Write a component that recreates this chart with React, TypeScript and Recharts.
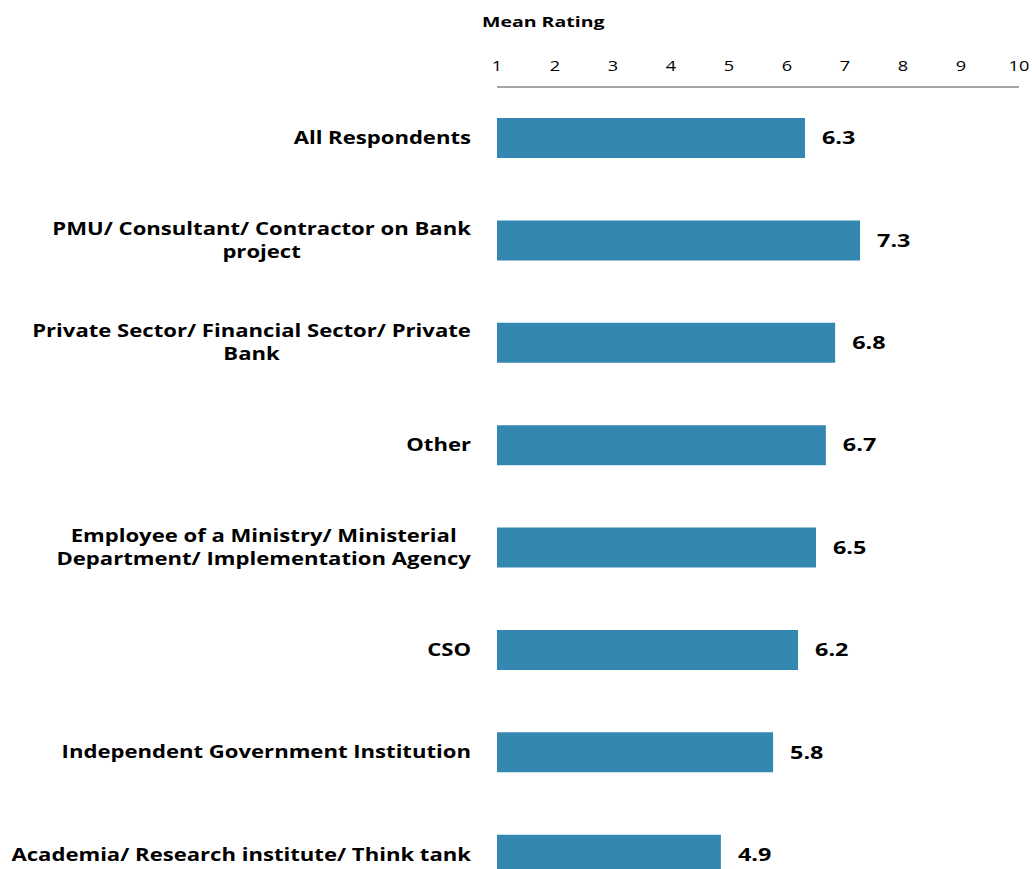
import React from "react";
import { BarChart, Bar, XAxis, YAxis, LabelList } from "recharts";

const categories = [
  "All Respondents",
  "PMU/ Consultant/ Contractor on Bank\nproject",
  "Private Sector/ Financial Sector/ Private\nBank",
  "Other",
  "Employee of a Ministry/ Ministerial\nDepartment/ Implementation Agency",
  "CSO",
  "Independent Government Institution",
  "Academia/ Research institute/ Think tank",
];
const meanRatings = [6.31, 7.26, 6.83, 6.67, 6.5, 6.19, 5.76, 4.86];
const xTicks = [1, 2, 3, 4, 5, 6, 7, 8, 9, 10];

const data = categories.map((name, i) => ({ name, value: meanRatings[i] }));

// the original text is drawn wide, so every label is stretched horizontally
const FONT = "'Open Sans'";
const STRETCH = 1.3;
const LABEL_SIZE = 17;

let ctx: CanvasRenderingContext2D | null = null;
const measure = (s: string) => {
  if (!ctx) ctx = document.createElement("canvas").getContext("2d");
  if (!ctx) return s.length * 9;
  ctx.font = `bold ${LABEL_SIZE}px ${FONT}`;
  return ctx.measureText(s).width * STRETCH;
};

const Wide = ({ x, y, anchor, children, size, bold }: any) => (
  <g transform={`translate(${x},${y}) scale(${STRETCH},1)`}>
    <text
      x={0}
      y={0}
      dy="0.35em"
      textAnchor={anchor}
      fontFamily={FONT}
      fontWeight={bold ? "bold" : "normal"}
      fontSize={size}
      fill="#000"
    >
      {children}
    </text>
  </g>
);

const CategoryTick = (props: any) => {
  const { x, y, payload } = props;
  const lines: string[] = String(payload.value).split("\n");
  const right = x - 24;
  const w = Math.max(...lines.map(measure));
  const lh = 23;
  const y0 = y - ((lines.length - 1) * lh) / 2;
  return (
    <g>
      {lines.map((l, i) => (
        <Wide
          key={i}
          x={lines.length > 1 ? right - w / 2 : right}
          y={y0 + i * lh}
          anchor={lines.length > 1 ? "middle" : "end"}
          size={LABEL_SIZE}
          bold
        >
          {l}
        </Wide>
      ))}
    </g>
  );
};

const RatingTick = (props: any) => {
  const { x, y, payload } = props;
  return (
    <Wide x={x} y={y - 6} anchor="middle" size={14}>
      {payload.value}
    </Wide>
  );
};

const ValueLabel = (props: any) => {
  const { x, y, width, height, value } = props;
  return (
    <Wide x={x + width + 17} y={y + height / 2} anchor="start" size={18} bold>
      {Number(value).toFixed(1)}
    </Wide>
  );
};

export default function App() {
  return (
    <div style={{ position: "relative", width: 1032, height: 906, fontFamily: FONT }}>
      <style>{"body{margin:0}"}</style>
      <div
        style={{
          position: "absolute",
          left: 482,
          top: 11,
          fontWeight: "bold",
          fontSize: 15,
          color: "#000",
          transform: `scaleX(${STRETCH})`,
          transformOrigin: "left top",
          whiteSpace: "nowrap",
        }}
      >
        Mean Rating
      </div>
      <BarChart
        width={1032}
        height={906}
        data={data}
        layout="vertical"
        margin={{ top: 40, right: 13, bottom: 0, left: 0 }}
        barSize={40}
      >
        <XAxis
          type="number"
          orientation="top"
          domain={[1, 10]}
          ticks={xTicks}
          allowDataOverflow
          height={47}
          tickLine={false}
          tickSize={0}
          tickMargin={15}
          axisLine={{ stroke: "#a6a6a6", strokeWidth: 2 }}
          tick={<RatingTick />}
        />
        <YAxis
          type="category"
          dataKey="name"
          width={497}
          axisLine={false}
          tickLine={false}
          tickSize={0}
          tick={<CategoryTick />}
          interval={0}
        />
        <Bar dataKey="value" fill="#3487b0" isAnimationActive={false}>
          <LabelList dataKey="value" content={<ValueLabel />} />
        </Bar>
      </BarChart>
    </div>
  );
}
